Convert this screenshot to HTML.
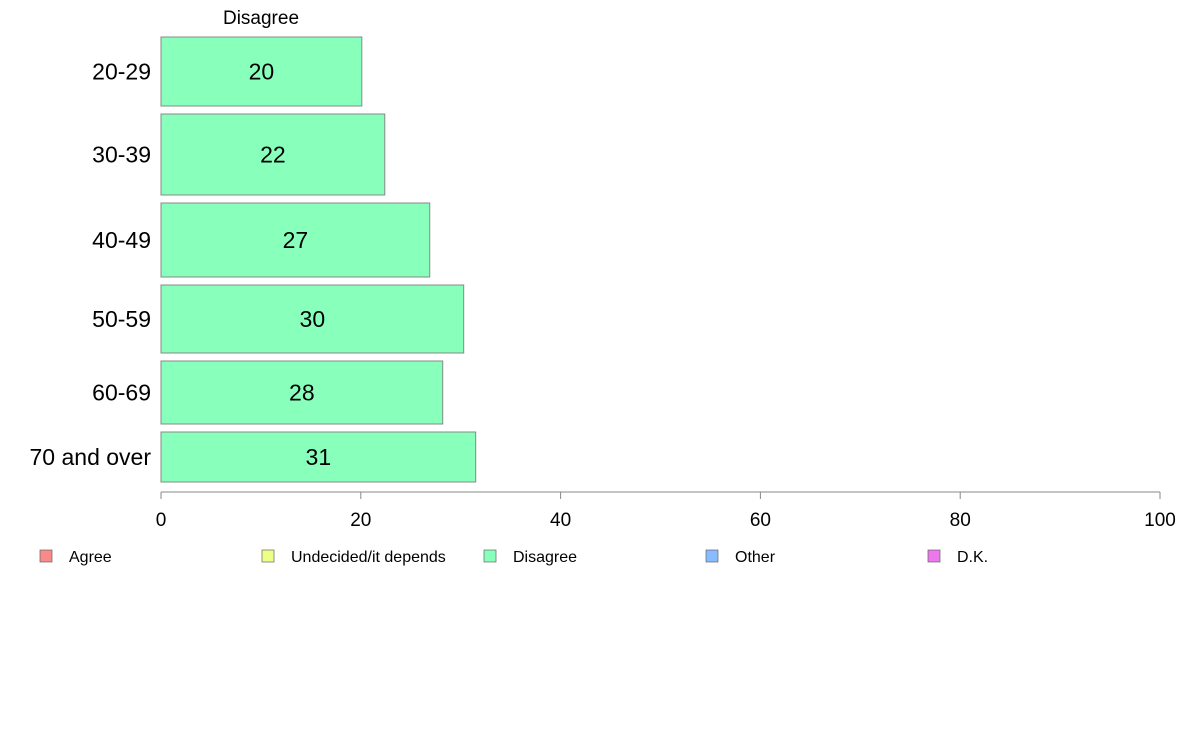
<!DOCTYPE html>
<html><head><meta charset="utf-8"><style>
body{margin:0;background:#fff;}
svg{display:block;font-family:"Liberation Sans",Arial,sans-serif;}
</style></head><body>
<svg id="chart" width="1188" height="736">
<text x="261" y="24" text-anchor="middle" font-size="19">Disagree</text>
<g id="bars"></g>
<g id="xaxis"></g>
<g id="legend"></g>
</svg>
<script>
const categories = ["20-29","30-39","40-49","50-59","60-69","70 and over"];
const disagreeValues = [20.1, 22.4, 26.9, 30.3, 28.2, 31.5];
const valueLabels = ["20","22","27","30","28","31"];
const sampleWeights = [69, 81, 74, 68, 63, 50];
const xTicks = [0,20,40,60,80,100];
const legendLabels = ["Agree","Undecided/it depends","Disagree","Other","D.K."];
const legendColors = ["#F88A8A","#EEFF88","#88FFBB","#88BBFF","#EE77EE"];

const NS="http://www.w3.org/2000/svg";
const x0=161, x1=1160, yTop=37, yBot=482, gap=8;
const xs = v => x0 + (v/100)*(x1-x0);
function mk(t,a,p){const e=document.createElementNS(NS,t);for(const k in a)e.setAttribute(k,a[k]);p.appendChild(e);return e;}
const bars=document.getElementById('bars');
const totalW=sampleWeights.reduce((a,b)=>a+b,0);
const scale=(yBot-yTop-gap*(categories.length-1))/totalW;
let y=yTop;
categories.forEach((c,i)=>{
  const h=sampleWeights[i]*scale;
  const r=mk('rect',{x:x0,y:y,width:xs(disagreeValues[i])-x0,height:h,fill:"#88FFBB",stroke:"#888","stroke-width":1},bars);
  
  
  const t=mk('text',{x:(x0+xs(disagreeValues[i]))/2,y:y+h/2+8,"text-anchor":"middle","font-size":23},bars);
  t.textContent=valueLabels[i];
  
  
  const l=mk('text',{x:151,y:y+h/2+8,"text-anchor":"end","font-size":23},bars);
  l.textContent=c;
  
  
  y+=h+gap;
});
const ax=document.getElementById('xaxis');
const al=mk('line',{x1:x0,x2:x1,y1:492,y2:492,stroke:"#888"},ax);


xTicks.forEach(v=>{
  const tk=mk('line',{x1:xs(v),x2:xs(v),y1:492,y2:499,stroke:"#888"},ax);
  
  
  const tt=mk('text',{x:xs(v),y:526,"text-anchor":"middle","font-size":19},ax);
  tt.textContent=v;
  
  
});
const lg=document.getElementById('legend');
legendLabels.forEach((s,i)=>{
  const bx=40+i*222;
  const b=mk('rect',{x:bx,y:550,width:12,height:12,fill:legendColors[i],stroke:"#666","stroke-width":0.7},lg);
  
  
  const t=mk('text',{x:bx+29,y:562,"font-size":16},lg);
  t.textContent=s;
  
  
});
</script>
</body></html>
